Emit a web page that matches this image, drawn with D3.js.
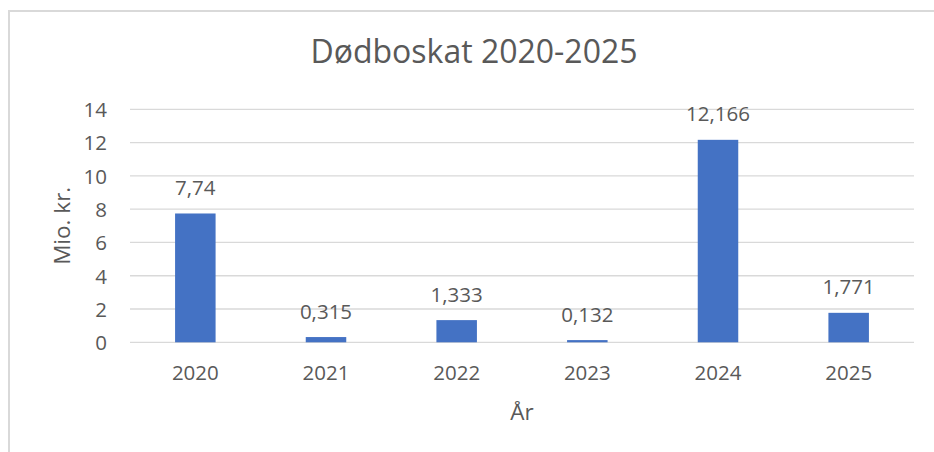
<!DOCTYPE html>
<html><head><meta charset="utf-8">
<script src="https://cdn.jsdelivr.net/npm/d3@7"></script>
<style>
html,body{margin:0;padding:0;background:#fff;}
svg{display:block;}
text{font-family:"Open Sans","Liberation Sans",sans-serif;fill:#595959;}
</style></head>
<body>
<svg id="chart" width="934" height="452"></svg>
<script>
const categories = ["2020","2021","2022","2023","2024","2025"];
const values = [7.74, 0.315, 1.333, 0.132, 12.166, 1.771];
const valueLabels = ["7,74","0,315","1,333","0,132","12,166","1,771"];
const yTicks = [0,2,4,6,8,10,12,14];
const title = "Dødboskat 2020-2025";
const yTitle = "Mio. kr.";
const xTitle = "År";

const FS = 20.5;
const svg = d3.select("#chart");
// chart border (only top/left visible in frame)
svg.append("rect").attr("x",9).attr("y",11).attr("width",960).attr("height",480)
  .attr("fill","#fff").attr("stroke","#d9d9d9").attr("stroke-width",2);

const plot = {left:130, right:914, top:109.3, bottom:342.3};
const x = d3.scaleBand().domain(categories).range([plot.left, plot.right])
  .paddingInner(0.69).paddingOuter(0.345);
const y = d3.scaleLinear().domain([0,14]).range([plot.bottom, plot.top]);

// gridlines
svg.append("g").selectAll("line").data(yTicks).join("line")
  .attr("x1",plot.left).attr("x2",plot.right)
  .attr("y1",d=>y(d)).attr("y2",d=>y(d))
  .attr("stroke","#d9d9d9").attr("stroke-width",1.3);

// y axis labels
const yAxis = d3.axisLeft(y).tickValues(yTicks).tickSize(0).tickPadding(0);
const gy = svg.append("g").attr("transform",`translate(${plot.left-23},0)`).call(yAxis);
gy.select(".domain").remove();
gy.selectAll("text").attr("font-size",FS).attr("fill","#595959")
  .attr("font-family","'Open Sans','Liberation Sans',sans-serif").attr("dy","0.36em");

// x axis labels
const xAxis = d3.axisBottom(x).tickSize(0).tickPadding(0);
const gx = svg.append("g").attr("transform",`translate(0,${plot.bottom})`).call(xAxis);
gx.select(".domain").remove();
gx.selectAll("text").attr("font-size",FS).attr("fill","#595959")
  .attr("font-family","'Open Sans','Liberation Sans',sans-serif")
  .attr("dy",null).attr("y",38);

// bars
svg.append("g").selectAll("rect").data(values).join("rect")
  .attr("x",(d,i)=>x(categories[i])).attr("width",x.bandwidth())
  .attr("y",d=>y(d)).attr("height",d=>plot.bottom-y(d))
  .attr("fill","#4472C4");

// data labels
svg.append("g").selectAll("text").data(values).join("text")
  .attr("x",(d,i)=>x(categories[i])+x.bandwidth()/2)
  .attr("y",d=>y(d)-18.5)
  .attr("text-anchor","middle").attr("font-size",FS)
  .text((d,i)=>valueLabels[i]);

// title
svg.append("text").attr("x",474).attr("y",63).attr("text-anchor","middle")
  .attr("font-size",32).text(title);

// axis titles
svg.append("text").attr("transform",`translate(70,${(plot.top+plot.bottom)/2}) rotate(-90)`)
  .attr("text-anchor","middle").attr("font-size",22.5).text(yTitle);
svg.append("text").attr("x",(plot.left+plot.right)/2).attr("y",420)
  .attr("text-anchor","middle").attr("font-size",22.5).text(xTitle);
</script>
</body></html>
